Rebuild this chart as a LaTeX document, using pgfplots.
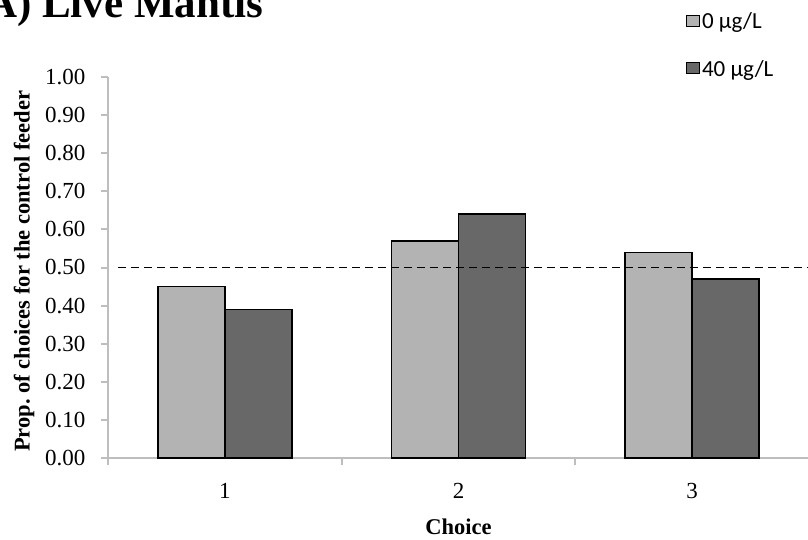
\documentclass[border=0pt]{standalone}
\usepackage{pgfplots}
\pgfplotsset{compat=1.18}
\usepackage{fontspec}
\setmainfont{Liberation Serif}
\newfontfamily\legfont{Carlito}
\definecolor{lightbar}{HTML}{B3B3B3}
\definecolor{darkbar}{HTML}{686868}
\definecolor{axgray}{HTML}{BEBEBE}
\pgfplotsset{mylegend/.style={legend image code/.code={\draw[##1,line width=1bp] (0bp,-5bp) rectangle (13bp,6bp);}}}
\begin{document}
\begin{tikzpicture}
\begin{axis}[
  at={(108bp,-458bp)}, anchor=south west,
  scale only axis, width=701bp, height=381bp,
  xmin=0.5, xmax=3.5, ymin=0, ymax=1,
  axis lines=left, axis line style={-, axgray, line width=2bp},
  ybar, bar width=67bp,
  xtick={1,2,3}, minor xtick={0.5,1.5,2.5,3.5},
  ytick={0,0.1,0.2,0.3,0.4,0.5,0.6,0.7,0.8,0.9,1.0},
  tick align=outside, major tick length=7bp, minor tick length=7bp,
  major x tick style={draw=none},
  every tick/.style={axgray, line width=2bp},
  tick label style={font=\fontsize{23bp}{26bp}\selectfont},
  /pgf/number format/assume math mode=true,
  yticklabel style={xshift=-12bp, /pgf/number format/.cd, fixed, fixed zerofill, precision=2},
  xticklabel style={yshift=-15bp},
  xlabel={Choice}, ylabel={Prop.\ of choices for the control feeder},
  label style={font=\bfseries\fontsize{22.5bp}{26bp}\selectfont},
  xlabel style={at={(axis description cs:0.5,-0.181)}, anchor=center},
  ylabel style={at={(axis description cs:-0.1198,0.49)}, anchor=center},
  title={A) Live Mantis},
  title style={at={(axis description cs:-0.179,1.14)}, anchor=base west, font=\bfseries\fontsize{43bp}{48bp}\selectfont},
  legend style={at={(axis description cs:0.82,1.18)}, anchor=north west, draw=none, fill=none,
    font=\legfont\fontsize{23bp}{26bp}\selectfont, legend cell align=left, row sep=26bp},
]
\addplot[fill=lightbar, draw=black, line width=1.5bp, bar shift=-33.5bp, mylegend] coordinates {(1,0.45) (2,0.57) (3,0.54)};
\addlegendentry{0 µg/L}
\addplot[fill=darkbar, draw=black, line width=1.5bp, bar shift=33.5bp, mylegend] coordinates {(1,0.39) (2,0.64) (3,0.47)};
\addlegendentry{40 µg/L}
\addplot[sharp plot, black, line width=1.6bp, dash pattern=on 8bp off 5bp, forget plot] coordinates {(0.543,0.5) (3.5,0.5)};
\end{axis}
\pgfresetboundingbox
\path[use as bounding box] (0,0) rectangle (808bp,-540bp);
\end{tikzpicture}
\end{document}
